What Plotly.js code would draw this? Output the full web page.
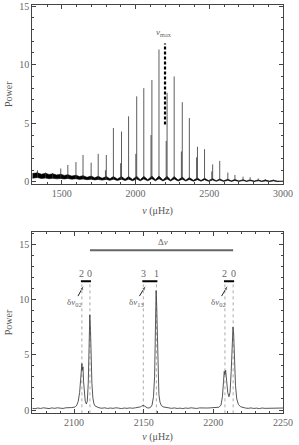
<!DOCTYPE html>
<html><head><meta charset="utf-8">
<script src="https://cdn.plot.ly/plotly-3.0.1.min.js"></script>
<style>html,body{margin:0;padding:0;background:#fff}#plot{width:299px;height:445px}</style>
</head><body><div id="plot"></div>
<script>
// ---------- TOP PANEL DATA (power spectrum, 1300-3000 muHz) ----------
// radial (l=0) modes
const l0Freq = [1390,1493,1596,1699,1802,1905,2008,2111,2214,2317,2420,2523,2626,2729,2832,2935];
const l0Power = [0.8,1.15,1.7,1.65,2.3,4.3,7.3,8.7,7.6,6.8,3.0,1.5,0.8,0.45,0.3,0.2];
// dipole (l=1) modes
const l1Freq = [1335,1438,1541,1644,1747,1850,1953,2056,2159,2262,2365,2468,2571,2674,2777,2880];
const l1Power = [1.0,0.75,1.45,2.3,2.4,4.6,5.6,8.0,11.3,9.0,5.45,2.8,1.8,0.6,0.4,0.25];
// quadrupole (l=2) modes
const l2Freq = [1796,1899,2002,2105,2208,2311,2414,2517];
const l2Power = [1.0,1.6,2.4,4.0,3.5,2.6,2.1,0.9];
// noise background envelope (low / high edge of the dense noisy trace)
const bandFreq = [1300,1335,1362,1390,1414,1438,1465,1493,1517,1541,1568,1596,1620,1644,1671,1699,1723,1747,1774,1802,1826,1850,1877,1905,1929,1953,1980,2008,2032,2056,2083,2111,2135,2159,2186,2214,2238,2262,2289,2317,2341,2365,2392,2420,2444,2468,2495,2523,2547,2571,2598,2626,2650,2674,2701,2729,2753,2777,2804,2832,2856,2880,2907,2935,2960,3000];
const bandLow  = [0.32,0.38,0.30,0.34,0.28,0.32,0.27,0.30,0.26,0.30,0.24,0.28,0.22,0.26,0.20,0.24,0.18,0.22,0.16,0.22,0.14,0.24,0.13,0.24,0.12,0.24,0.11,0.26,0.10,0.26,0.10,0.28,0.10,0.28,0.09,0.26,0.09,0.26,0.08,0.24,0.08,0.22,0.07,0.20,0.07,0.19,0.06,0.17,0.06,0.16,0.05,0.14,0.05,0.13,0.05,0.12,0.05,0.11,0.04,0.10,0.04,0.09,0.04,0.09,0.04,0.04];
const bandHigh = [0.72,0.78,0.66,0.74,0.64,0.70,0.60,0.66,0.56,0.62,0.50,0.58,0.46,0.54,0.40,0.50,0.36,0.48,0.32,0.46,0.28,0.46,0.26,0.46,0.24,0.46,0.22,0.48,0.20,0.48,0.20,0.50,0.20,0.50,0.18,0.48,0.18,0.46,0.16,0.42,0.15,0.38,0.14,0.34,0.13,0.32,0.12,0.28,0.11,0.26,0.10,0.24,0.10,0.22,0.09,0.20,0.09,0.18,0.08,0.17,0.08,0.16,0.08,0.15,0.08,0.08];
const numaxFreq = [2200, 2200];
const numaxPower = [4.9, 11.8];
const numaxLabel = '<i>ν</i><sub>max</sub>';

// ---------- BOTTOM PANEL DATA (zoom 2070-2250 muHz) ----------
const zoomFreq = [2070,2072,2074,2076,2078,2080,2082,2084,2086,2088,2090,2092,2094,2096,2098,2100,2101,2102,2103,2104,2104.7,2105.2,2105.6,2106,2106.4,2106.8,2107.3,2108,2108.8,2109.5,2110.2,2110.8,2111.3,2111.8,2112.3,2112.8,2113.5,2114.3,2115.2,2116.5,2118,2120,2122,2124,2126,2128,2130,2132,2134,2136,2138,2140,2142,2144,2146,2147.5,2148.5,2149.5,2150.3,2151.2,2152.5,2153.8,2155,2156,2157,2157.8,2158.4,2158.9,2159.3,2159.8,2160.3,2160.9,2161.7,2162.7,2164,2166,2168,2170,2172,2174,2176,2178,2180,2182,2184,2186,2188,2190,2192,2194,2196,2198,2200,2202,2204,2205.5,2206.5,2207.3,2207.8,2208.3,2208.8,2209.5,2210.3,2211.2,2212,2212.8,2213.5,2214.1,2214.6,2215.2,2215.9,2216.8,2218,2219.5,2221,2223,2225,2227,2229,2231,2233,2235,2237,2239,2241,2243,2245,2247,2249,2250];
const zoomPower = [0.15,0.12,0.18,0.14,0.20,0.16,0.13,0.19,0.15,0.20,0.17,0.14,0.20,0.18,0.22,0.25,0.30,0.45,0.80,1.6,2.8,3.9,4.2,3.6,3.9,2.6,1.5,0.8,0.55,0.8,2.5,6.0,8.6,7.2,4.5,2.4,1.1,0.55,0.35,0.25,0.20,0.16,0.20,0.14,0.18,0.15,0.20,0.17,0.13,0.18,0.15,0.19,0.16,0.20,0.22,0.28,0.35,0.42,0.38,0.28,0.20,0.18,0.25,0.45,1.2,3.0,6.5,10.8,9.5,6.0,3.0,1.4,0.7,0.4,0.28,0.22,0.18,0.15,0.19,0.14,0.17,0.13,0.18,0.15,0.20,0.16,0.14,0.19,0.17,0.21,0.18,0.20,0.22,0.20,0.25,0.45,1.2,2.6,3.5,3.2,3.6,2.7,1.6,1.2,1.6,3.5,6.5,7.5,6.8,4.2,2.2,1.0,0.5,0.30,0.22,0.18,0.15,0.19,0.14,0.17,0.13,0.18,0.15,0.16,0.12,0.17,0.14,0.19,0.15,0.18,0.16];
const zoomModeFreq = [2105.6,2111.4,2149.7,2159.1,2208.3,2214.2];
const zoomModeDegree = ['2','0','3','1','2','0'];
const smallSepLabels = ['δ<i>ν</i><sub>02</sub>','δ<i>ν</i><sub>13</sub>','δ<i>ν</i><sub>02</sub>'];
const smallSepTextX = [2100.5, 2144.6, 2203.6];
const smallSepTextY = [9.7, 9.7, 9.7];
const smallSepArrowX = [2107.2, 2151.8, 2210.6];
const markerLevel = 11.65;
const degreeLabelLevel = 12.35;
const deltaNuFreq = [2111.4, 2214.2];
const deltaNuLevel = [14.45, 14.45];
const deltaNuLabel = 'Δ<i>ν</i>';

// ---------- BUILD TRACES ----------
const traces = [];
// top: noise band
traces.push({x: bandFreq, y: bandLow, xaxis:'x', yaxis:'y', mode:'lines', line:{color:'#000', width:0.6}, hoverinfo:'skip'});
traces.push({x: bandFreq, y: bandHigh, xaxis:'x', yaxis:'y', mode:'lines', fill:'tonexty', fillcolor:'#000', line:{color:'#000', width:0.6}, hoverinfo:'skip'});
// top: mode spikes
function baseAt(freqs) {
  return freqs.map(f => { let k = bandFreq.findIndex(b => b >= f); if (k < 0) k = bandFreq.length - 1; return bandLow[k]; });
}
[[l0Freq, l0Power], [l1Freq, l1Power], [l2Freq, l2Power]].forEach(([f, p]) => {
  const base = baseAt(f), xs = [], ys = [];
  f.forEach((v, i) => { xs.push(v, v, null); ys.push(base[i], p[i], null); });
  traces.push({x: xs, y: ys, xaxis:'x', yaxis:'y', mode:'lines', line:{color:'#333', width:0.8}, hoverinfo:'skip'});
});
// top: nu_max marker
traces.push({x: numaxFreq, y: numaxPower, xaxis:'x', yaxis:'y', mode:'lines', line:{color:'#000', width:2.2, dash:'3px,2px'}, hoverinfo:'skip'});

// bottom: dotted mode lines
const dx = [], dy = [];
zoomModeFreq.forEach(f => { dx.push(f, f, null); dy.push(-0.3, markerLevel, null); });
traces.push({x: dx, y: dy, xaxis:'x2', yaxis:'y2', mode:'lines', line:{color:'#aaa', width:1, dash:'dot'}, hoverinfo:'skip'});
// bottom: spectrum
traces.push({x: zoomFreq, y: zoomPower, xaxis:'x2', yaxis:'y2', mode:'lines', line:{color:'#444', width:0.9}, hoverinfo:'skip'});
// bottom: small separation bars
const bx = [], by = [];
for (let i = 0; i < zoomModeFreq.length; i += 2) { bx.push(zoomModeFreq[i] - 0.7, zoomModeFreq[i+1] + 0.7, null); by.push(markerLevel, markerLevel, null); }
traces.push({x: bx, y: by, xaxis:'x2', yaxis:'y2', mode:'lines', line:{color:'#000', width:2}, hoverinfo:'skip'});
// bottom: small separation arrows (line + arrow-head marker)
smallSepLabels.forEach((t, i) => {
  traces.push({x:[smallSepTextX[i] + 2.3, smallSepArrowX[i]], y:[smallSepTextY[i] + 0.6, markerLevel - 0.35],
    xaxis:'x2', yaxis:'y2', mode:'lines+markers', line:{color:'#222', width:1},
    marker:{symbol:'arrow', angleref:'previous', size:[0, 6], color:'#222'}, hoverinfo:'skip'});
});
// bottom: large separation
traces.push({x: deltaNuFreq, y: deltaNuLevel, xaxis:'x2', yaxis:'y2', mode:'lines', line:{color:'#666', width:2.2}, hoverinfo:'skip'});

// ---------- ANNOTATIONS ----------
const lblFont = {family:'Liberation Serif, serif', size:10, color:'#666'};
const smallFont = {family:'Liberation Serif, serif', size:9, color:'#666'};
const ann = [];
ann.push({xref:'x', yref:'y', x:2196, y:12.75, text:numaxLabel, showarrow:false, font:smallFont});
zoomModeFreq.forEach((f, i) => ann.push({xref:'x2', yref:'y2', x:f, y:degreeLabelLevel, text:zoomModeDegree[i], showarrow:false, font:lblFont}));
smallSepLabels.forEach((t, i) => {
  ann.push({xref:'x2', yref:'y2', x:smallSepTextX[i], y:smallSepTextY[i], text:t, showarrow:false, font:smallFont});
});
ann.push({xref:'x2', yref:'y2', x:(deltaNuFreq[0] + deltaNuFreq[1]) / 2 + 1, y:15.2, text:deltaNuLabel, showarrow:false, font:smallFont});

// ---------- LAYOUT ----------
const axisCommon = {
  showline:true, linecolor:'#444', linewidth:1, mirror:'ticks', ticks:'inside', ticklen:4, tickwidth:1, tickcolor:'#444',
  showgrid:false, zeroline:false, tickfont:{family:'Liberation Serif, serif', size:10, color:'#666'},
  automargin:false
};
const titleFont = {family:'Liberation Serif, serif', size:10, color:'#555'};
const layout = {
  width:299, height:445, margin:{l:0, r:0, t:0, b:0},
  paper_bgcolor:'#fff', plot_bgcolor:'#fff', showlegend:false,
  font:{family:'Liberation Serif, serif', size:10, color:'#555'},
  xaxis: Object.assign({}, axisCommon, {domain:[0.108, 0.9465], range:[1300, 3000], anchor:'y', tick0:0, dtick:500,
    minor:{dtick:100, ticks:'inside', ticklen:2, tickcolor:'#444'}, title:{text:'<i>ν</i> (μHz)', font:titleFont, standoff:9}}),
  yaxis: Object.assign({}, axisCommon, {domain:[0.5876, 0.9888], range:[-0.13, 15.09], anchor:'x', tick0:0, dtick:5,
    minor:{dtick:1, ticks:'inside', ticklen:2, tickcolor:'#444'}, title:{text:'Power', font:titleFont, standoff:4}}),
  xaxis2: Object.assign({}, axisCommon, {domain:[0.108, 0.9465], range:[2070, 2250], anchor:'y2', tick0:0, dtick:50,
    minor:{dtick:10, ticks:'inside', ticklen:2, tickcolor:'#444'}, title:{text:'<i>ν</i> (μHz)', font:titleFont, standoff:5}}),
  yaxis2: Object.assign({}, axisCommon, {domain:[0.0719, 0.4787], range:[-0.27, 16.1], anchor:'x2', tick0:0, dtick:5,
    minor:{dtick:1, ticks:'inside', ticklen:2, tickcolor:'#444'}, title:{text:'Power', font:titleFont, standoff:4}}),
  annotations: ann
};
Plotly.newPlot('plot', traces, layout, {displayModeBar:false, staticPlot:true});
</script></body></html>
